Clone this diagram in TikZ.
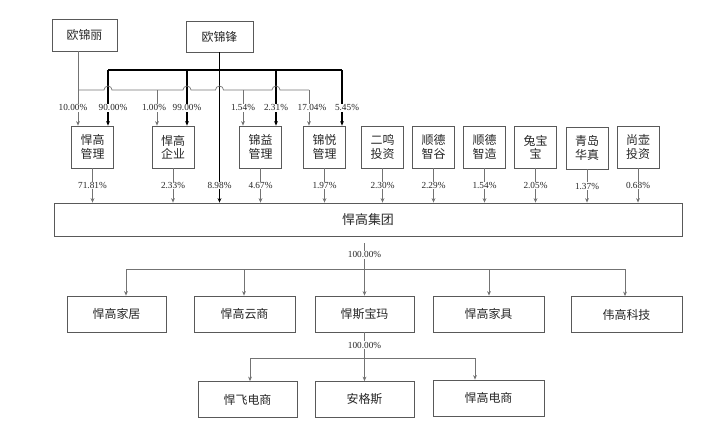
\documentclass[tikz,border=0pt]{standalone}
\usepackage{fontspec}
\setmainfont{Liberation Serif}
\newfontfamily\cjk{Noto Sans CJK SC}
\usetikzlibrary{arrows.meta}
\tikzset{
  box/.style={draw=black!65, line width=0.8pt, inner sep=0pt, align=center, text=black!85, font=\cjk\fontsize{12}{13.5}\selectfont},
  hold/.style={box, minimum width=42bp, minimum height=42bp},
  sub/.style={box, minimum height=36bp},
  thn/.style={draw=black!55, line width=0.7pt},
  thk/.style={draw=black, line width=1.4pt},
  arr/.style={-{Stealth[length=4.5pt,width=3.8pt]}},
  pct/.style={fill=white, inner sep=0.6pt, text=black!85, font=\fontsize{9.3}{10}\selectfont},
}

\begin{document}
\begin{tikzpicture}[x=1bp, y=-1bp]
			%%%%% START %%%%%
			\useasboundingbox (0,0) rectangle (720,432);
			
			\node[box, minimum width=65bp, minimum height=32bp] (ojl) at (84.5,35) {欧锦丽};
			\node[box, minimum width=67bp, minimum height=31bp] (ojf) at (219.5,36.5) {欧锦锋};
			
			\node[hold] (hggl) at (92.5,147) {悍高\\管理};
			\node[hold] (hgqy) at (173,147) {悍高\\企业};
			\node[hold] (jygl) at (260.5,147) {锦益\\管理};
			\node[hold] (jyue) at (324.5,147) {锦悦\\管理};
			\node[hold] (emtz) at (382.5,147) {二鸣\\投资};
			\node[hold] (sdzg) at (433.5,147) {顺德\\智谷};
			\node[hold] (sdzz) at (484.5,147) {顺德\\智造};
			\node[hold] (tbb) at (535.5,147) {兔宝\\宝};
			\node[hold] (qdhz) at (587,148) {青岛\\华真};
			\node[hold] (sytz) at (638,147) {尚壶\\投资};
			
			\node[box, minimum width=628bp, minimum height=33bp, font=\cjk\fontsize{13}{15}\selectfont] (hgjt) at (368,219.5) {悍高集团};
			
			\node[sub, minimum width=99bp] (hgjj) at (116.5,314) {悍高家居};
			\node[sub, minimum width=101bp] (hgys) at (244.5,314) {悍高云商};
			\node[sub, minimum width=99bp] (hsbm) at (364.5,314) {悍斯宝玛};
			\node[sub, minimum width=111bp] (hgjju) at (488.5,314) {悍高家具};
			\node[sub, minimum width=111bp] (wgkj) at (626.5,314.5) {伟高科技};
			
			\node[sub, minimum width=99bp] (hfds) at (247.5,399.5) {悍飞电商};
			\node[sub, minimum width=99bp] (agsi) at (364.5,399.5) {安格斯};
			\node[sub, minimum width=111bp] (hgds) at (488.5,398) {悍高电商};
			
			% 欧锦锋
			\coordinate (t1) at (108,70);
			\coordinate (t2) at (187,70);
			\coordinate (t3) at (276,70);
			\coordinate (t4) at (342,70);
			\draw[thk] (t1) -- (t4);
			\draw[thk,arr] (ojf.south) -- (ojf.south |- hgjt.north) node[pct, pos=0.887] {8.98\%};
			\draw[thk,arr] (t1) -- (t1 |- hggl.north) node[pct, pos=0.68, xshift=5bp] {90.00\%};
			\draw[thk,arr] (t2) -- (t2 |- hgqy.north) node[pct, pos=0.68] {99.00\%};
			\draw[thk,arr] (t3) -- (t3 |- jygl.north) node[pct, pos=0.68] {2.31\%};
			\draw[thk,arr] (t4) -- (t4 |- jyue.north) node[pct, pos=0.68, xshift=5bp] {5.45\%};
			
			% 欧锦丽
			\coordinate (l1) at (78,90);
			\coordinate (l2) at (157,90);
			\coordinate (l3) at (243,90);
			\coordinate (l4) at (309,90);
			\draw[thn] (l1) -- (104,90) arc (180:360:4) -- (183,90) arc (180:360:4) -- (215.5,90) arc (180:360:4) -- (272,90) arc (180:360:4) -- (l4);
			\draw[thn,arr] (l1 |- ojl.south) -- (l1 |- hggl.north) node[pct, pos=0.76, xshift=-5bp] {10.00\%};
			\draw[thn,arr] (l2) -- (l2 |- hgqy.north) node[pct, pos=0.5, xshift=-3bp] {1.00\%};
			\draw[thn,arr] (l3) -- (l3 |- jygl.north) node[pct, pos=0.5] {1.54\%};
			\draw[thn,arr] (l4) -- (l4 |- jyue.north) node[pct, pos=0.5, xshift=3bp] {17.04\%};
			
			% to 悍高集团
			\draw[thn,arr] (hggl.south) -- (hggl.south |- hgjt.north) node[pct, midway] {71.81\%};
			\draw[thn,arr] (hgqy.south) -- (hgqy.south |- hgjt.north) node[pct, midway] {2.33\%};
			\draw[thn,arr] (jygl.south) -- (jygl.south |- hgjt.north) node[pct, midway] {4.67\%};
			\draw[thn,arr] (jyue.south) -- (jyue.south |- hgjt.north) node[pct, midway] {1.97\%};
			\draw[thn,arr] (emtz.south) -- (emtz.south |- hgjt.north) node[pct, midway] {2.30\%};
			\draw[thn,arr] (sdzg.south) -- (sdzg.south |- hgjt.north) node[pct, midway] {2.29\%};
			\draw[thn,arr] (sdzz.south) -- (sdzz.south |- hgjt.north) node[pct, midway] {1.54\%};
			\draw[thn,arr] (tbb.south) -- (tbb.south |- hgjt.north) node[pct, midway] {2.05\%};
			\draw[thn,arr] (qdhz.south) -- (qdhz.south |- hgjt.north) node[pct, midway] {1.37\%};
			\draw[thn,arr] (sytz.south) -- (sytz.south |- hgjt.north) node[pct, midway] {0.68\%};
			
			% 悍高集团 subsidiaries
			\coordinate (j0) at (364.5,243);
			\coordinate (s1) at (126,269);
			\coordinate (s2) at (244,269);
			\coordinate (s4) at (489,269);
			\coordinate (s5) at (625,269);
			\draw[thn] (s1) -- (s5);
			\draw[thn,arr] (j0) -- (j0 |- hsbm.north) node[pct, pos=0.226] {100.00\%};
			\draw[thn,arr] (s1) -- (s1 |- hgjj.north);
			\draw[thn,arr] (s2) -- (s2 |- hgys.north);
			\draw[thn,arr] (s4) -- (s4 |- hgjju.north);
			\draw[thn,arr] (s5) -- (s5 |- wgkj.north);
			
			% 悍斯宝玛 subsidiaries
			\coordinate (u1) at (250,358);
			\coordinate (u3) at (475,358);
			\draw[thn] (u1) -- (u3);
			\draw[thn,arr] (hsbm.south) -- (hsbm.south |- agsi.north) node[pct, pos=0.26] {100.00\%};
			\draw[thn,arr] (u1) -- (u1 |- hfds.north);
			\draw[thn,arr] (u3) -- (u3 |- hgds.north);
			
			%%%%% END %%%%%
\end{tikzpicture}
\end{document}
